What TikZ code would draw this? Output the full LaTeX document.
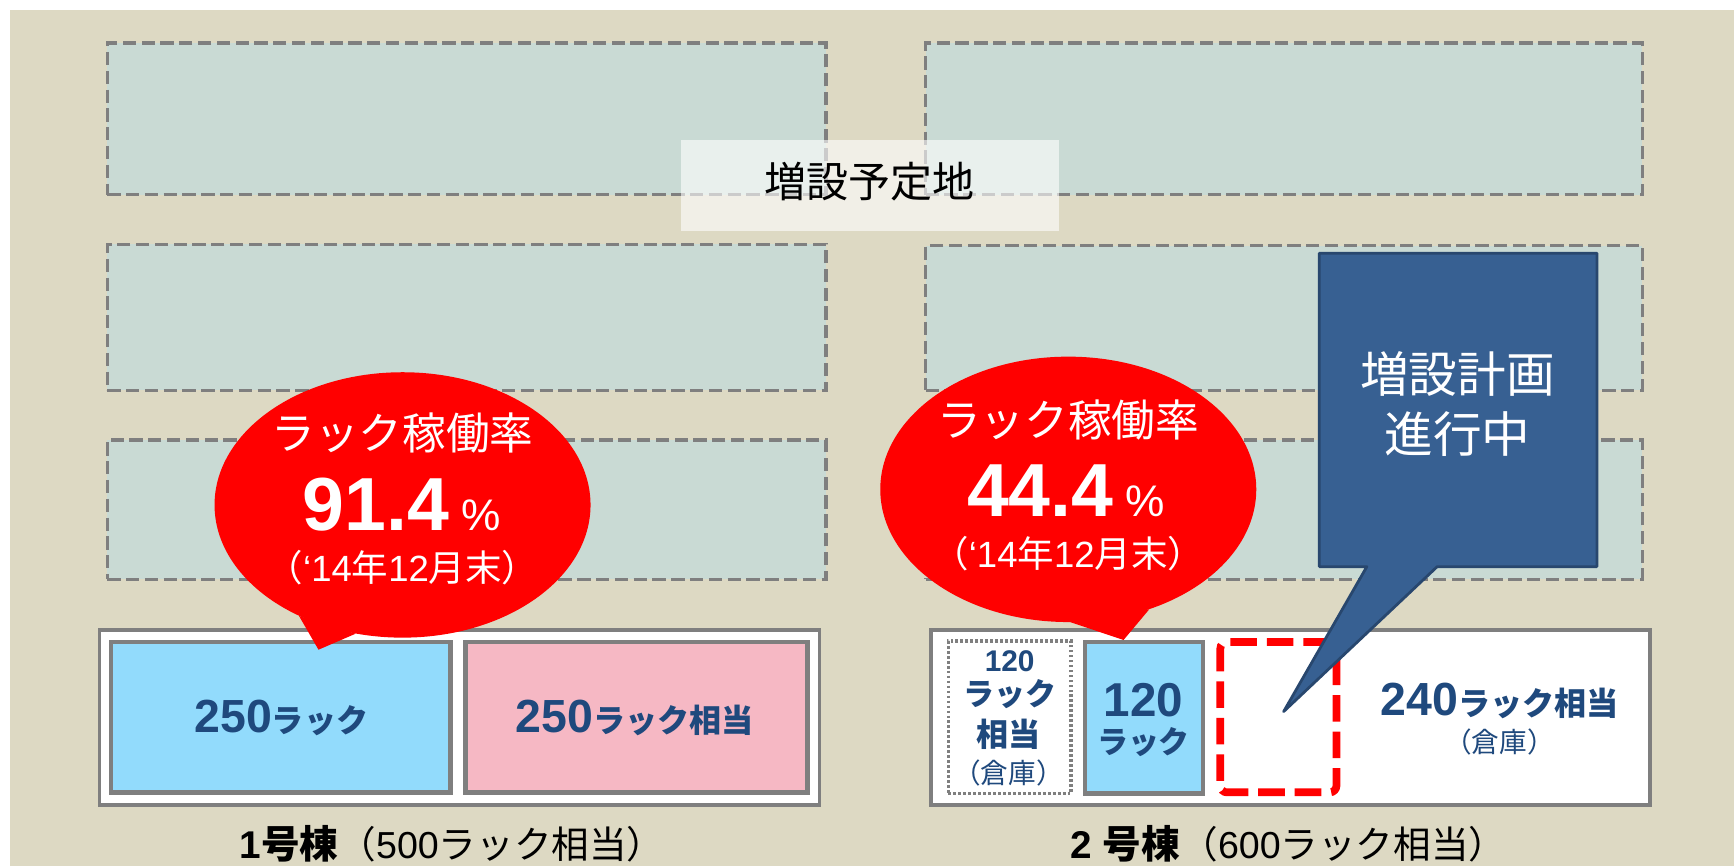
\documentclass[tikz,border=0pt]{standalone}
\usepackage{fontspec}
\newfontfamily\jpf{Noto Sans CJK JP}
\newfontfamily\arf{Liberation Sans}
\newcommand\fsz[1]{\fontsize{#1}{#1}\selectfont}
\usetikzlibrary{shapes.geometric}
\definecolor{bg}{HTML}{DDD9C3}
\definecolor{plot}{HTML}{C9DAD4}
\definecolor{gline}{HTML}{7F7F7F}
\definecolor{navy}{HTML}{1F497D}
\definecolor{cfill}{HTML}{376092}
\definecolor{cline}{HTML}{28476E}
\definecolor{sky}{HTML}{92DBFC}
\definecolor{pinkbox}{HTML}{F6B8C4}
\begin{document}
\begin{tikzpicture}[x=1pt,y=-1pt,
  box/.style={rectangle, inner sep=0pt, outer sep=0pt, anchor=north west},
  plotbox/.style={box, draw=gline, fill=plot, line width=3pt, dash pattern=on 12pt off 5pt},
  bldg/.style={box, draw=gline, fill=white, line width=3.5pt},
  rackbox/.style={box, draw=gline, line width=4pt},
  bubble/.style={ellipse, fill=red, inner sep=0pt, minimum width=340, minimum height=240},
  wtxt/.style={text=white, inner sep=0pt},
  btxt/.style={text=navy, inner sep=0pt},
  calloutshape/.style={fill=cfill, draw=cline, line width=2.5pt, line join=round}
]
\useasboundingbox (0,0) rectangle (1568,783);
\fill[white] (0,0) rectangle (1568,783);
\fill[bg] (9,9) rectangle (1568,783);

% planned expansion plots
\node[plotbox, minimum width=650, minimum height=137] (L1) at (97,39) {};
\node[plotbox, minimum width=650, minimum height=132] (L2) at (97,221) {};
\node[plotbox, minimum width=650, minimum height=126] (L3) at (97,398) {};
\node[plotbox, minimum width=648, minimum height=137] (R1) at (837,39) {};
\node[plotbox, minimum width=648, minimum height=131] (R2) at (837,222) {};
\node[plotbox, minimum width=648, minimum height=126] (R3) at (837,398) {};

% label
\node[box, fill=white, fill opacity=0.6, minimum width=342, minimum height=82] (lblbox) at (616,127) {};
\node[inner sep=0pt, text=black] (lbl) at (786,164) {\jpf\fsz{38}増設予定地};

% building 1
\node[bldg, minimum width=651, minimum height=158] (B1) at (90,570) {};
\node[rackbox, fill=sky, minimum width=307, minimum height=136] (B1a) at (100.5,580.5) {};
\node[rackbox, fill=pinkbox, minimum width=309, minimum height=136] (B1b) at (421,580.5) {};
\node[btxt] (t1a) at (254.4,649.5) {\bfseries{\arf\fsz{42}250}{\jpf\fsz{29}ラック}};
\node[btxt] (t1b) at (574,649.5) {\bfseries{\arf\fsz{42}250}{\jpf\fsz{29}ラック相当}};

% building 2
\node[bldg, minimum width=650, minimum height=158] (B2) at (842,570) {};
\node[box, draw=gline, fill=white, line width=3pt, dash pattern=on 2.5pt off 2pt, minimum width=111, minimum height=138] (B2a) at (857.5,579.5) {};
\node[rackbox, fill=sky, minimum width=107, minimum height=137] (B2b) at (981,580.5) {};
\node[box, draw=red, line width=7pt, dash pattern=on 24pt off 9pt, rounded corners=6pt, minimum width=105, minimum height=136] (B2c) at (1103.5,580.5) {};

\node[btxt] (t2a1) at (913,598) {\arf\bfseries\fsz{27}120};
\node[btxt] (t2a2) at (913,628) {\jpf\bfseries\fsz{28}ラック};
\node[btxt] (t2a3) at (912,664) {\jpf\bfseries\fsz{29}相当};
\node[btxt] (t2a4) at (912,699) {\jpf\fsz{25}（倉庫）};
\node[btxt] (t2b1) at (1034,633) {\arf\bfseries\fsz{43}120};
\node[btxt] (t2b2) at (1034,671) {\jpf\bfseries\fsz{28}ラック};
\node[btxt] (t2d1) at (1356,634) {\bfseries{\arf\fsz{42}240}{\jpf\fsz{29}ラック相当}};
\node[btxt] (t2d2) at (1356,671) {\jpf\fsz{25}（倉庫）};

% bubbles
\node[bubble] (EL) at (364,456.6) {};
\coordinate (tipL) at (288,587.5);
\fill[red] (EL.227) -- (tipL) -- (EL.250) -- cycle;
\node[bubble] (ER) at (966,442.5) {};
\coordinate (tipR) at (1016,578.7);
\fill[red] (ER.271) -- (tipR) -- (ER.304) -- cycle;

\node[wtxt] (eL1) at (364,392) {\jpf\fsz{39.5}ラック稼働率};
\node[wtxt] (eL2) at (363.5,456) {{\arf\bfseries\fsz{68}91.4}{\arf\fsz{40} \%}};
\node[wtxt] (eL3) at (364,513) {\fsz{33}{\jpf （}{\arf ‘14}{\jpf 年}{\arf 12}{\jpf 月末）}};
\node[wtxt] (eR1) at (966,380) {\jpf\fsz{39.5}ラック稼働率};
\node[wtxt] (eR2) at (964,444) {{\arf\bfseries\fsz{68}44.4}{\arf\fsz{40} \%}};
\node[wtxt] (eR3) at (966,501) {\fsz{33}{\jpf （}{\arf ‘14}{\jpf 年}{\arf 12}{\jpf 月末）}};

% callout
\coordinate (c1) at (1193,229);
\coordinate (c2) at (1444,229);
\coordinate (c3) at (1444,512.4);
\coordinate (c4) at (1299.6,512.4);
\coordinate (ctip) at (1160.7,643.5);
\coordinate (c5) at (1236,512.4);
\coordinate (c6) at (1193,512.4);
\filldraw[calloutshape] (c1) -- (c2) -- (c3) -- (c4) -- (ctip) -- (c5) -- (c6) -- cycle;
\node[wtxt] (cT1) at (1318,338.5) {\jpf\fsz{44}増設計画};
\node[wtxt] (cT2) at (1318,392.5) {\jpf\fsz{44}進行中};

% building labels
\node[anchor=base west, inner sep=0pt] (lab1) at (216.5,776) {{\arf\bfseries\fsz{35}1}{\jpf\bfseries\fsz{35}号棟}{\jpf\fsz{34}（}{\arf\fsz{34}500}{\jpf\fsz{34}ラック相当）}};
\node[anchor=base west, inner sep=0pt] (lab2) at (968,776) {{\arf\bfseries\fsz{35}2 }{\jpf\bfseries\fsz{35}号棟}{\jpf\fsz{34}（}{\arf\fsz{34}600}{\jpf\fsz{34}ラック相当）}};
\end{tikzpicture}
\end{document}
